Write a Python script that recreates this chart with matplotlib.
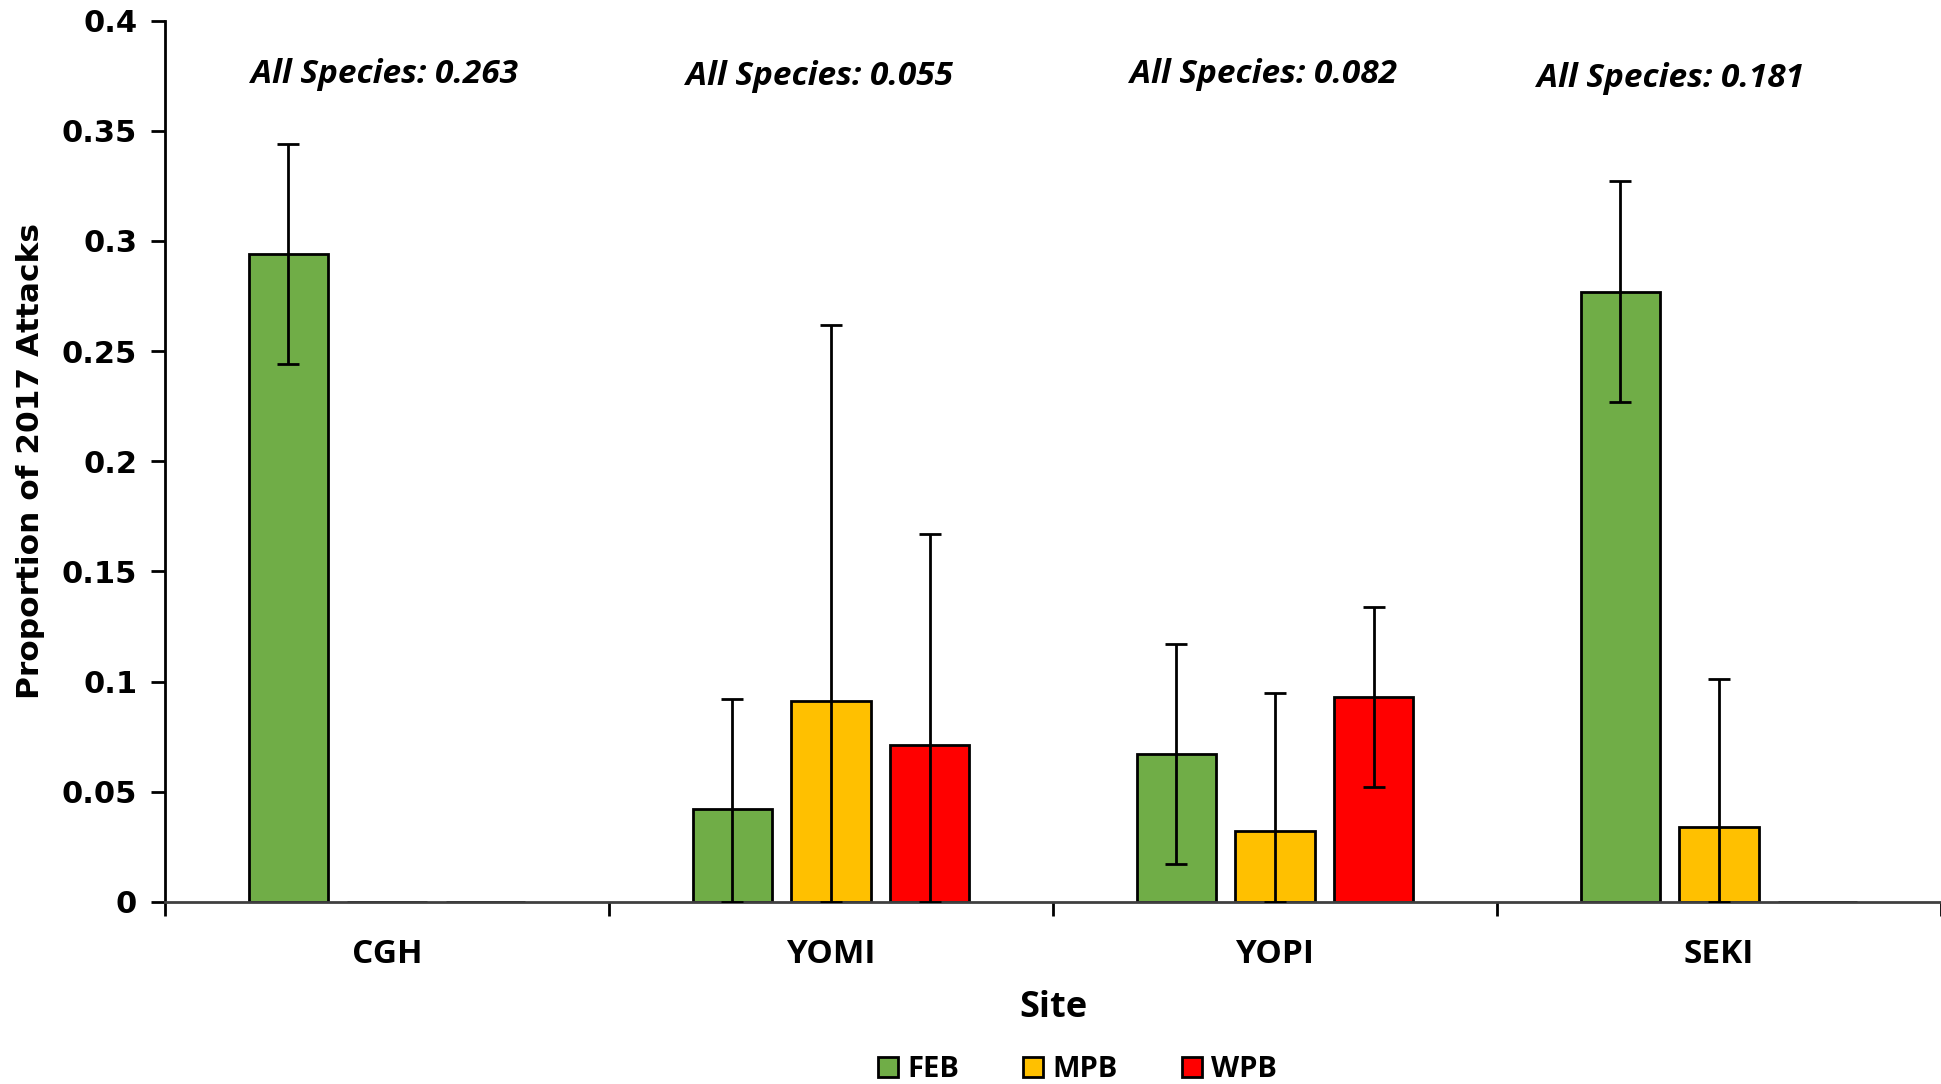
import matplotlib.pyplot as plt
import numpy as np

sites = ['CGH', 'YOMI', 'YOPI', 'SEKI']
species = ['FEB', 'MPB', 'WPB']
colors = ['#70AD47', '#FFC000', '#FF0000']

feb = [0.294, 0.042, 0.067, 0.277]
mpb = [0.0, 0.091, 0.032, 0.034]
wpb = [0.0, 0.071, 0.093, 0.0]
feb_err = [0.050, 0.050, 0.050, 0.050]
mpb_err = [0.0, 0.171, 0.063, 0.067]
wpb_err = [0.0, 0.096, 0.041, 0.0]
all_species = ['0.263', '0.055', '0.082', '0.181']

fig = plt.figure(figsize=(19.41, 10.84), dpi=100)
ax = fig.add_axes([0.085, 0.168, 0.915, 0.813])

x = np.arange(len(sites))
width = 0.178
step = 0.2225
for k, (vals, errs) in enumerate(zip([feb, mpb, wpb], [feb_err, mpb_err, wpb_err])):
    vals = np.array(vals)
    errs = np.array(errs)
    lower = np.minimum(errs, vals)
    pos = x + (k - 1) * step
    ax.bar(pos, vals, width, color=colors[k], edgecolor='black', linewidth=2,
           label=species[k], zorder=2)
    mask = errs > 0
    ax.errorbar(pos[mask], vals[mask], yerr=[lower[mask], errs[mask]], fmt='none',
                ecolor='black', elinewidth=2, capsize=8, capthick=2, zorder=3)

ax.set_xlim(-0.5, 3.5)
ax.set_ylim(0, 0.4)
ax.set_yticks(np.arange(0, 0.401, 0.05))
ax.set_yticklabels(['0', '0.05', '0.1', '0.15', '0.2', '0.25', '0.3', '0.35', '0.4'])
ax.set_xticks(x)
ax.set_xticklabels(sites, fontsize=24, fontweight='bold', family='Open Sans')
ax.set_xticks(np.arange(-0.5, 3.6, 1), minor=True)
ax.tick_params(axis='x', which='major', length=0, pad=26)
ax.tick_params(axis='x', which='minor', length=10, width=2, direction='out')
ax.tick_params(axis='y', length=10, width=2, direction='out', pad=10)
for lab in ax.get_yticklabels():
    lab.set_fontsize(22)
    lab.set_fontweight('bold')
    lab.set_family('DejaVu Sans')

for s in ['top', 'right']:
    ax.spines[s].set_visible(False)
ax.spines['left'].set_linewidth(2)
ax.spines['bottom'].set_linewidth(2)
ax.spines['bottom'].set_color('#404040')

ax.set_xlabel('Site', fontsize=26, fontweight='bold', family='Open Sans', labelpad=14)
ax.set_ylabel('Proportion of 2017 Attacks', fontsize=22.5, fontweight='bold',
              family='DejaVu Sans', labelpad=12)

ann_x = [-0.005, 0.975, 1.975, 2.89]
ann_y = [0.3755, 0.3745, 0.3755, 0.3735]
for xi, yi, v in zip(ann_x, ann_y, all_species):
    ax.text(xi, yi, 'All Species: ' + v, ha='center', va='center', fontsize=24,
            fontweight='bold', style='italic', family='Open Sans')

leg = fig.legend(loc='center', bbox_to_anchor=(0.555, 0.013), ncol=3, frameon=False,
                 prop={'family': 'Open Sans', 'weight': 'bold', 'size': 21},
                 handlelength=0.7, handleheight=0.7, columnspacing=2.2, handletextpad=0.3)

fig.savefig('out.png', dpi=100)
